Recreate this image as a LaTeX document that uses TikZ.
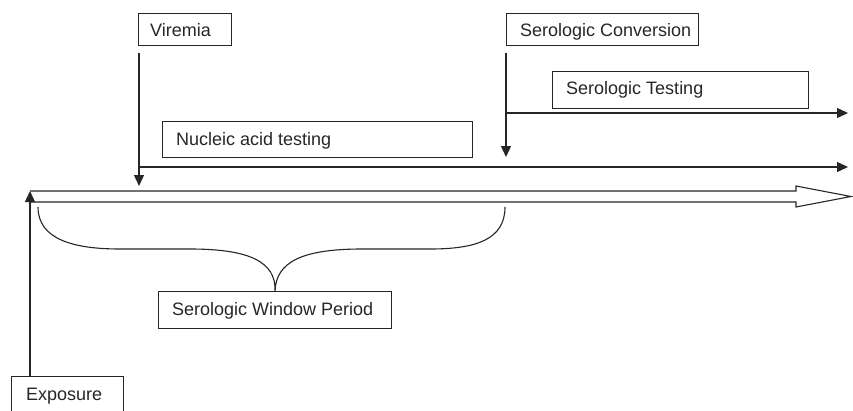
\documentclass[tikz,border=0pt]{standalone}
\usepackage{fontspec}
\setmainfont{Liberation Sans}
\usetikzlibrary{arrows.meta}
\begin{document}
\begin{tikzpicture}[x=1pt,y=-1pt,
  box/.style={draw=black!85, line width=1.1pt, rectangle, inner sep=0pt, anchor=north west},
  lbl/.style={anchor=base west, inner sep=0pt, text=black!85, font=\fontsize{18}{21}\selectfont},
  conn/.style={draw=black!85, line width=1.3pt, -{Triangle[length=11pt,width=10pt]}},
  ln/.style={draw=black!85, line width=1.1pt, line join=miter}]
\useasboundingbox (0,0) rectangle (853,410);
\clip (0,0) rectangle (853,410);

% boxes
\node[box, minimum width=93pt,  minimum height=32pt] (vir) at (138,13) {};
\node[box, minimum width=192pt, minimum height=32pt] (sc)  at (506,13) {};
\node[box, minimum width=256pt, minimum height=37pt] (st)  at (552,71) {};
\node[box, minimum width=310pt, minimum height=36pt] (nat) at (162,121) {};
\node[box, minimum width=233pt, minimum height=37pt] (swp) at (158,291) {};
\node[box, minimum width=112pt, minimum height=50pt] (exp) at (11,376) {};

% labels
\node[lbl] (virT) at ([xshift=12pt, yshift=-23pt]vir.north west) {Viremia};
\node[lbl] (scT)  at ([xshift=14pt, yshift=-23pt]sc.north west) {Serologic Conversion};
\node[lbl] (stT)  at ([xshift=14pt, yshift=-23pt]st.north west) {Serologic Testing};
\node[lbl] (natT) at ([xshift=14pt, yshift=-24.5pt]nat.north west) {Nucleic acid testing};
\node[lbl] (swpT) at ([xshift=14pt, yshift=-24pt]swp.north west) {Serologic Window Period};
\node[lbl] (expT) at ([xshift=15pt, yshift=-24pt]exp.north west) {Exposure};

% named points
\coordinate (v1) at (139,53);
\coordinate (v2) at (139,186);
\coordinate (n1) at (139,167);
\coordinate (n2) at (848,167);
\coordinate (s1) at (506,53);
\coordinate (s2) at (506,157);
\coordinate (t1) at (506,113);
\coordinate (t2) at (848,113);
\coordinate (e1) at (30,376);
\coordinate (e2) at (30,191);
\coordinate (bl) at (38,207);
\coordinate (br) at (505,207);

% timeline (hollow arrow)
\draw[ln] (30,191) -- (796,191) -- (796,186) -- (851,196.5) -- (796,207) -- (796,202) -- (30,202);

% arrows
\draw[conn] (v1) -- (v2);
\draw[conn] (n1) -- (n2);
\draw[conn] (s1) -- (s2);
\draw[conn] (t1) -- (t2);
\draw[conn] (e1) -- (e2);

% brace
\draw[draw=black!85, line width=1.1pt]
  (bl) .. controls (38,240) and (75,249) .. (120,249)
  -- (190,249) .. controls (250,249) and (276,262) .. (swp.north)
  (swp.north) .. controls (276,262) and (302,249) .. (362,249)
  -- (430,249) .. controls (475,249) and (505,240) .. (br);
\end{tikzpicture}
\end{document}
